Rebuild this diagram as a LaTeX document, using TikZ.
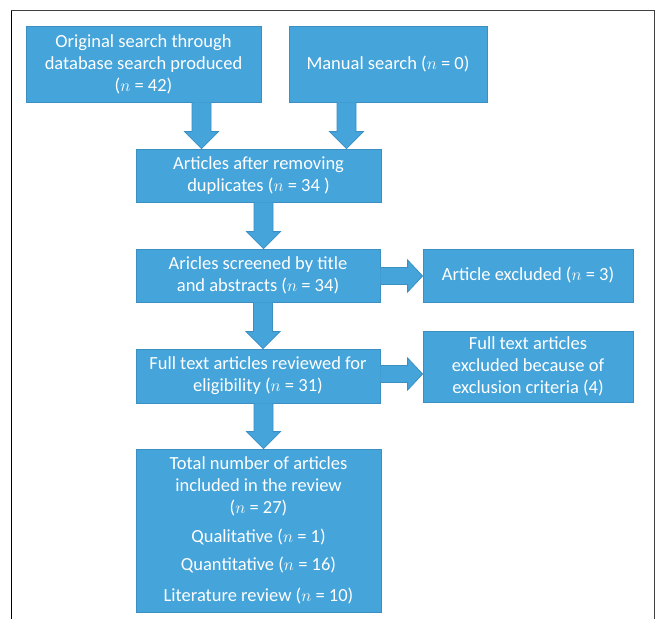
\documentclass[tikz,border=0pt]{standalone}
\usepackage{fontspec}
\setmainfont{Carlito}
\usetikzlibrary{calc}
\definecolor{boxfill}{RGB}{69,164,218}
\definecolor{boxline}{RGB}{60,143,195}
\tikzset{
  box/.style={draw=boxline, fill=boxfill, line width=0.8pt, text=white, align=center,
    inner sep=0pt, font=\fontsize{18.5}{22}\selectfont},
  blockarrow/.style={draw=boxline, fill=boxfill, line width=0.8pt, line join=miter},
}
\newcommand\varrow[3]{% x, from, to
  \path (#2.south -| #1,0) coordinate (s) (#3.north -| #1,0) coordinate (t);
  \draw[blockarrow] ($(s)+(-9.5,0)$) -- ($(t)+(-9.5,-17)$) -- ($(t)+(-17,-17)$) -- (t)
    -- ($(t)+(17,-17)$) -- ($(t)+(9.5,-17)$) -- ($(s)+(9.5,0)$);
}
\newcommand\harrow[3]{% y, from, to
  \path (#2.east |- 0,#1) coordinate (s) (#3.west |- 0,#1) coordinate (t);
  \draw[blockarrow] ($(s)+(0,-8.5)$) -- ($(t)+(-15,-8.5)$) -- ($(t)+(-15,-16)$) -- (t)
    -- ($(t)+(-15,16)$) -- ($(t)+(-15,8.5)$) -- ($(s)+(0,8.5)$);
}
\begin{document}
\begin{tikzpicture}[x=1pt,y=-1pt]
\useasboundingbox (0,0) rectangle (660,619);
% frame
\draw[black, line width=1.2pt] (11.5,619) -- (11.5,10.5);
\draw[black!75, line width=1.2pt] (11,10.5) -- (654.5,10.5) -- (654.5,619);
% boxes
\node[box, minimum width=235pt, minimum height=76pt] (b1) at (143.5,64)
  {Original search through\\database search produced\\($n$ = 42)};
\node[box, minimum width=198pt, minimum height=76pt] (b2) at (388,64)
  {Manual search ($n$ = 0)};
\node[box, minimum width=245pt, minimum height=53pt] (b3) at (258.5,175.5)
  {Articles after removing\\duplicates ($n$ = 34 )};
\node[box, minimum width=244pt, minimum height=53pt] (b4) at (258,275.5)
  {Aricles screened by title\\and abstracts ($n$ = 34)};
\node[box, minimum width=210pt, minimum height=53pt] (e1) at (528,275.5)
  {Article excluded ($n$ = 3)};
\node[box, minimum width=244pt, minimum height=54pt] (b5) at (258,376)
  {Full text articles reviewed for\\eligibility ($n$ = 31)};
\node[box, minimum width=210pt, minimum height=71pt] (e2) at (528,366.5)
  {Full text articles\\excluded because of\\exclusion criteria (4)};
\node[box, minimum width=245pt, minimum height=163pt] (b6) at (258.5,530.5)
  {Total number of articles\\included in the review\\($n$ = 27)\\[7pt]Qualitative ($n$ = 1)\\[6pt]Quantitative ($n$ = 16)\\[9pt]Literature review ($n$ = 10)};
% arrows
\varrow{201.5}{b1}{b3}
\varrow{346.5}{b2}{b3}
\varrow{263.5}{b3}{b4}
\varrow{263}{b4}{b5}
\varrow{263.5}{b5}{b6}
\harrow{276}{b4}{e1}
\harrow{374}{b5}{e2}
\end{tikzpicture}
\end{document}
